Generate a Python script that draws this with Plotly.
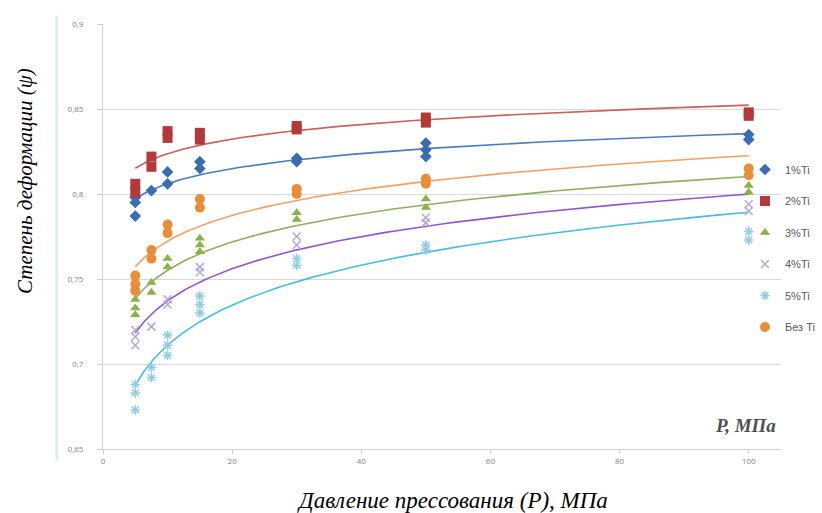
import numpy as np
import plotly.graph_objects as go

# ---- data ----
series_names = ["1%Ti", "2%Ti", "3%Ti", "4%Ti", "5%Ti", "Без Ti"]

p_1 = [5, 5, 5, 7.5, 10, 10, 15, 15, 30, 30, 50, 50, 50, 100, 100]
psi_1 = [0.787, 0.795, 0.798, 0.802, 0.813, 0.806, 0.819, 0.815, 0.821, 0.819, 0.830, 0.826, 0.822, 0.835, 0.832]

p_2 = [5, 5, 7.5, 7.5, 10, 10, 15, 15, 30, 30, 50, 50, 100, 100]
psi_2 = [0.806, 0.801, 0.822, 0.816, 0.837, 0.833, 0.836, 0.832, 0.840, 0.838, 0.845, 0.842, 0.848, 0.846]

p_3 = [5, 5, 5, 7.5, 7.5, 10, 10, 15, 15, 15, 30, 30, 50, 50, 100, 100]
psi_3 = [0.738, 0.733, 0.729, 0.748, 0.742, 0.762, 0.757, 0.774, 0.770, 0.766, 0.789, 0.785, 0.797, 0.792, 0.805, 0.801]

p_4 = [5, 5, 5, 7.5, 10, 10, 15, 15, 30, 30, 50, 50, 100, 100]
psi_4 = [0.720, 0.716, 0.711, 0.722, 0.738, 0.735, 0.757, 0.754, 0.775, 0.770, 0.786, 0.783, 0.794, 0.790]

p_5 = [5, 5, 5, 7.5, 7.5, 10, 10, 10, 15, 15, 15, 30, 30, 50, 50, 100, 100]
psi_5 = [0.688, 0.683, 0.673, 0.698, 0.692, 0.717, 0.711, 0.705, 0.740, 0.735, 0.730, 0.762, 0.758, 0.770, 0.767, 0.778, 0.773]

p_0 = [5, 5, 5, 7.5, 7.5, 10, 10, 15, 15, 30, 30, 50, 50, 100, 100]
psi_0 = [0.752, 0.747, 0.743, 0.767, 0.762, 0.782, 0.777, 0.797, 0.792, 0.803, 0.800, 0.809, 0.806, 0.815, 0.811]

x_ticks = [0, 20, 40, 60, 80, 100]
y_ticks = [0.65, 0.7, 0.75, 0.8, 0.85, 0.9]
y_tick_labels = ["0,65", "0,7", "0,75", "0,8", "0,85", "0,9"]

# ---- styles ----
styles = [
    dict(symbol="diamond", size=9, mcolor="#3A6CB0", lcolor="#4A7CC0"),
    dict(symbol="square", size=10, mcolor="#B23A3A", lcolor="#C8605C"),
    dict(symbol="triangle-up", size=9, mcolor="#8CB04A", lcolor="#8DB060"),
    dict(symbol="x-thin-open", size=8, mcolor="#B5A9D3", lcolor="#9155D0"),
    dict(symbol="asterisk-open", size=8, mcolor="#92CDE0", lcolor="#45BDE3"),
    dict(symbol="circle", size=10, mcolor="#E88E3A", lcolor="#F4A060"),
]
data = [(p_1, psi_1), (p_2, psi_2), (p_3, psi_3), (p_4, psi_4), (p_5, psi_5), (p_0, psi_0)]

fig = go.Figure()

# logarithmic trendlines (least-squares fit of the data, as in Excel)
for (px, py), st in zip(data, styles):
    b, a = np.polyfit(np.log(px), py, 1)
    xs = np.geomspace(min(px), max(px), 120)
    fig.add_trace(go.Scatter(x=xs, y=a + b * np.log(xs), mode="lines",
                             line=dict(color=st["lcolor"], width=1.6),
                             showlegend=False, hoverinfo="skip"))

for i, ((px, py), st, name) in enumerate(zip(data, styles, series_names)):
    ms = dict(symbol=st["symbol"], size=st["size"], color=st["mcolor"])
    if "open" in st["symbol"]:
        ms["line"] = dict(color=st["mcolor"], width=1.5)
    fig.add_trace(go.Scatter(x=px, y=py, mode="markers", name=name,
                             marker=ms, legendgroup=f"g{i}"))

fig.add_annotation(x=(745 - 103) / 678, y=(449 - 425) / 425, xref="paper", yref="paper",
                   text="<i><b>P, МПа</b></i>", showarrow=False,
                   xanchor="center", yanchor="middle",
                   font=dict(family="Liberation Serif", size=19, color="#505050"))
fig.add_annotation(x=(452 - 103) / 678, y=-(500 - 449) / 425, xref="paper", yref="paper",
                   text="<i>Давление прессования (P), МПа</i>", showarrow=False,
                   xanchor="center", yanchor="middle",
                   font=dict(family="Liberation Serif", size=23, color="#000000"))
fig.add_annotation(x=-(103 - 25) / 678, y=(449 - 181) / 425, xref="paper", yref="paper",
                   text="<i>Степень деформации (ψ)</i>", showarrow=False,
                   textangle=-90, xanchor="center", yanchor="middle",
                   font=dict(family="Liberation Serif", size=21, color="#000000"))

fig.update_layout(
    width=822, height=513,
    margin=dict(l=103, r=41, t=24, b=64, autoexpand=False),
    paper_bgcolor="white", plot_bgcolor="white",
    showlegend=True,
    legend=dict(x=745 / 822, y=(513 - 155) / 513, xref="container", yref="container",
                xanchor="left", yanchor="top",
                bgcolor="rgba(0,0,0,0)", font=dict(family="Liberation Sans", size=11, color="#595959"),
                tracegroupgap=12.5),
    xaxis=dict(range=[0, 105], tickvals=x_ticks, showgrid=False, zeroline=False,
               showline=True, linecolor="#D0D0D0", linewidth=1,
               ticks="outside", ticklen=4, tickcolor="#D0D0D0",
               tickfont=dict(family="Open Sans", size=8, color="#7F7F7F")),
    yaxis=dict(range=[0.65, 0.9], tickvals=y_ticks, ticktext=y_tick_labels,
               showgrid=True, gridcolor="#D9D9D9", zeroline=False,
               showline=True, linecolor="#D0D0D0", linewidth=1,
               ticks="outside", ticklen=5, tickcolor="#D0D0D0", ticklabelstandoff=12,
               tickfont=dict(family="Open Sans", size=8, color="#7F7F7F")),
)

fig.add_shape(type="line", xref="paper", yref="paper", x0=-0.068, x1=-0.068, y0=-0.025, y1=1.02,
              line=dict(color="#E3ECE7", width=3))

fig.write_html("out.html")
